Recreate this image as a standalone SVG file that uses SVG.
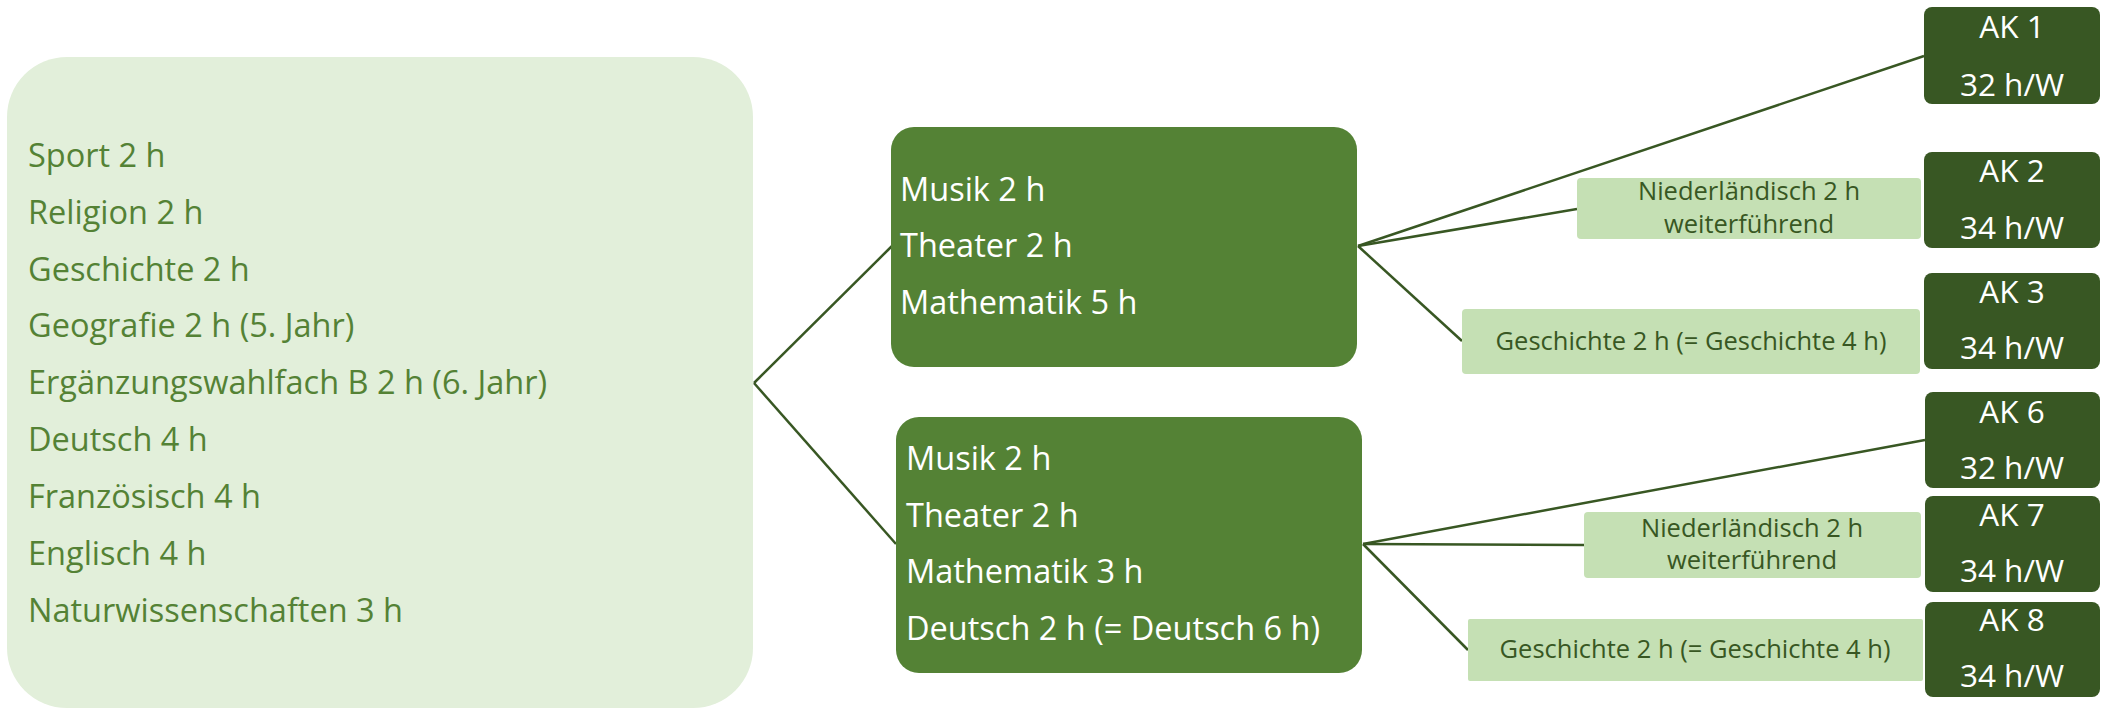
<svg xmlns="http://www.w3.org/2000/svg" width="2105" height="709" viewBox="0 0 2105 709">
<style>
text{font-family:"Open Sans","Liberation Sans",sans-serif}
.big{fill:#E2EFDA}
.mid{fill:#548235}
.ak{fill:#385723}
.lt{fill:#C5E0B4}
.tb{font-size:32.5px;fill:#548235}
.tw{font-size:32.5px;fill:#FFFFFF}
.ta{font-size:31.5px;fill:#FFFFFF;text-anchor:middle}
.tl{font-size:25.5px;fill:#385723;text-anchor:middle}
.conn line{stroke:#385723;stroke-width:2.5;fill:none}
</style>
<rect width="2105" height="709" fill="#FFFFFF"/>
<g class="conn" id="connectors">
<line x1="754" y1="383" x2="892" y2="246"/>
<line x1="754" y1="383" x2="896" y2="544"/>
<line x1="1358" y1="246" x2="1924" y2="56"/>
<line x1="1358" y1="246" x2="1577" y2="209"/>
<line x1="1358" y1="246" x2="1462" y2="341"/>
<line x1="1363" y1="544" x2="1925" y2="440"/>
<line x1="1363" y1="544" x2="1584" y2="545"/>
<line x1="1363" y1="544" x2="1468" y2="650"/>
</g>
<g id="pflicht">
<rect class="big" x="7" y="57" width="746" height="651" rx="60"/>
<text class="tb" x="28" y="167">Sport 2 h</text>
<text class="tb" x="28" y="224">Religion 2 h</text>
<text class="tb" x="28" y="281">Geschichte 2 h</text>
<text class="tb" x="28" y="337">Geografie 2 h (5. Jahr)</text>
<text class="tb" x="28" y="394">Ergänzungswahlfach B 2 h (6. Jahr)</text>
<text class="tb" x="28" y="451">Deutsch 4 h</text>
<text class="tb" x="28" y="508">Französisch 4 h</text>
<text class="tb" x="28" y="565">Englisch 4 h</text>
<text class="tb" x="28" y="622">Naturwissenschaften 3 h</text>
</g>
<g id="wahl1">
<rect class="mid" x="891" y="127" width="466" height="240" rx="23"/>
<text class="tw" x="900" y="201">Musik 2 h</text>
<text class="tw" x="900" y="257">Theater 2 h</text>
<text class="tw" x="900" y="314">Mathematik 5 h</text>
</g>
<g id="wahl2">
<rect class="mid" x="896" y="417" width="466" height="256" rx="23"/>
<text class="tw" x="906" y="470">Musik 2 h</text>
<text class="tw" x="906" y="527">Theater 2 h</text>
<text class="tw" x="906" y="583">Mathematik 3 h</text>
<text class="tw" x="906" y="640">Deutsch 2 h (= Deutsch 6 h)</text>
</g>
<g id="nl1">
<rect class="lt" x="1577" y="178" width="344" height="61" rx="4"/>
<text class="tl" x="1749" y="200">Niederländisch 2 h</text>
<text class="tl" x="1749" y="233">weiterführend</text>
</g>
<g id="ge1">
<rect class="lt" x="1462" y="309" width="458" height="65" rx="4"/>
<text class="tl" x="1691" y="350">Geschichte 2 h (= Geschichte 4 h)</text>
</g>
<g id="nl2">
<rect class="lt" x="1584" y="512" width="337" height="66" rx="4"/>
<text class="tl" x="1752" y="537">Niederländisch 2 h</text>
<text class="tl" x="1752" y="569">weiterführend</text>
</g>
<g id="ge2">
<rect class="lt" x="1468" y="619" width="455" height="62" rx="2"/>
<text class="tl" x="1695" y="658">Geschichte 2 h (= Geschichte 4 h)</text>
</g>
<g id="ak1">
<rect class="ak" x="1924" y="7" width="176" height="97" rx="8"/>
<text class="ta" x="2012" y="38">AK 1</text>
<text class="ta" x="2012" y="96">32 h/W</text>
</g>
<g id="ak2">
<rect class="ak" x="1924" y="152" width="176" height="96" rx="8"/>
<text class="ta" x="2012" y="182">AK 2</text>
<text class="ta" x="2012" y="239">34 h/W</text>
</g>
<g id="ak3">
<rect class="ak" x="1924" y="273" width="176" height="96" rx="8"/>
<text class="ta" x="2012" y="303">AK 3</text>
<text class="ta" x="2012" y="359">34 h/W</text>
</g>
<g id="ak6">
<rect class="ak" x="1925" y="392" width="175" height="96" rx="8"/>
<text class="ta" x="2012" y="423">AK 6</text>
<text class="ta" x="2012" y="479">32 h/W</text>
</g>
<g id="ak7">
<rect class="ak" x="1925" y="496" width="175" height="96" rx="8"/>
<text class="ta" x="2012" y="526">AK 7</text>
<text class="ta" x="2012" y="582">34 h/W</text>
</g>
<g id="ak8">
<rect class="ak" x="1925" y="602" width="175" height="95" rx="8"/>
<text class="ta" x="2012" y="631">AK 8</text>
<text class="ta" x="2012" y="687">34 h/W</text>
</g>
</svg>
